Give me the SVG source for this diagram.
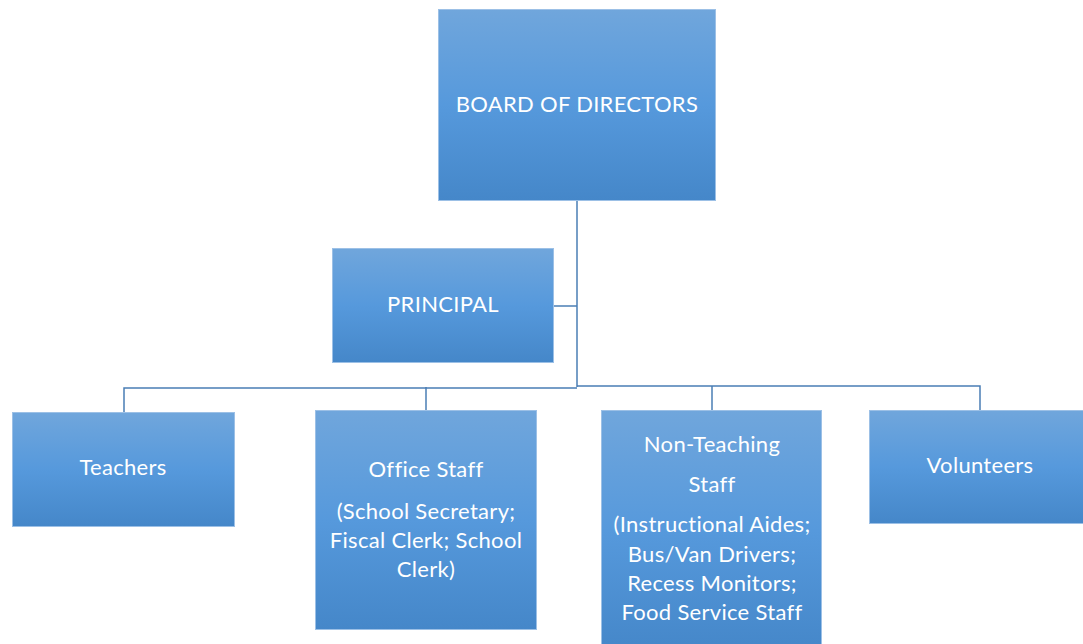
<svg xmlns="http://www.w3.org/2000/svg" width="1083" height="644" viewBox="0 0 1083 644">
  <defs>
    <linearGradient id="boxFill" x1="0" y1="0" x2="0" y2="1">
      <stop offset="0" stop-color="#70a6dc"/>
      <stop offset="0.5" stop-color="#5699dc"/>
      <stop offset="1" stop-color="#4587c9"/>
    </linearGradient>
  </defs>
  <style>
    .box { fill: url(#boxFill); stroke: #9cc0e6; stroke-width: 1; }
    .lbl { font-family: Lato, "Open Sans", "Liberation Sans", sans-serif; font-size: 22px; letter-spacing: 0.3px; fill: #ffffff; text-anchor: middle; }
    .wire { fill: none; stroke: #4a7eb5; stroke-width: 1.5; }
  </style>
  <rect width="1083" height="644" fill="#ffffff"/>

  <!-- connectors -->
  <g id="connectors">
    <path class="wire" d="M577 200 V387"/>
    <path class="wire" d="M553 306 H577"/>
    <path class="wire" d="M124 412 V388 H577"/>
    <path class="wire" d="M426 410 V387"/>
    <path class="wire" d="M577 386 H980 V410"/>
    <path class="wire" d="M712 386 V410"/>
  </g>

  <g id="board">
    <rect class="box" x="438.5" y="9.5" width="277" height="191"/>
    <text class="lbl" x="577" y="112">BOARD OF DIRECTORS</text>
  </g>

  <g id="principal">
    <rect class="box" x="332.5" y="248.5" width="221" height="114"/>
    <text class="lbl" x="443" y="312">PRINCIPAL</text>
  </g>

  <g id="teachers">
    <rect class="box" x="12.5" y="412.5" width="222" height="114"/>
    <text class="lbl" x="123" y="475">Teachers</text>
  </g>

  <g id="office-staff">
    <rect class="box" x="315.5" y="410.5" width="221" height="219"/>
    <text class="lbl" x="426" y="477">Office Staff</text>
    <text class="lbl" x="426" y="519">(School Secretary;</text>
    <text class="lbl" x="426" y="548">Fiscal Clerk; School</text>
    <text class="lbl" x="426" y="577">Clerk)</text>
  </g>

  <g id="non-teaching-staff">
    <rect class="box" x="601.5" y="410.5" width="220" height="240"/>
    <text class="lbl" x="712" y="452">Non-Teaching</text>
    <text class="lbl" x="712" y="492">Staff</text>
    <text class="lbl" x="712" y="532">(Instructional Aides;</text>
    <text class="lbl" x="712" y="562">Bus/Van Drivers;</text>
    <text class="lbl" x="712" y="591">Recess Monitors;</text>
    <text class="lbl" x="712" y="620">Food Service Staff</text>
  </g>

  <g id="volunteers">
    <rect class="box" x="869.5" y="410.5" width="220" height="113"/>
    <text class="lbl" x="980" y="473">Volunteers</text>
  </g>
</svg>
